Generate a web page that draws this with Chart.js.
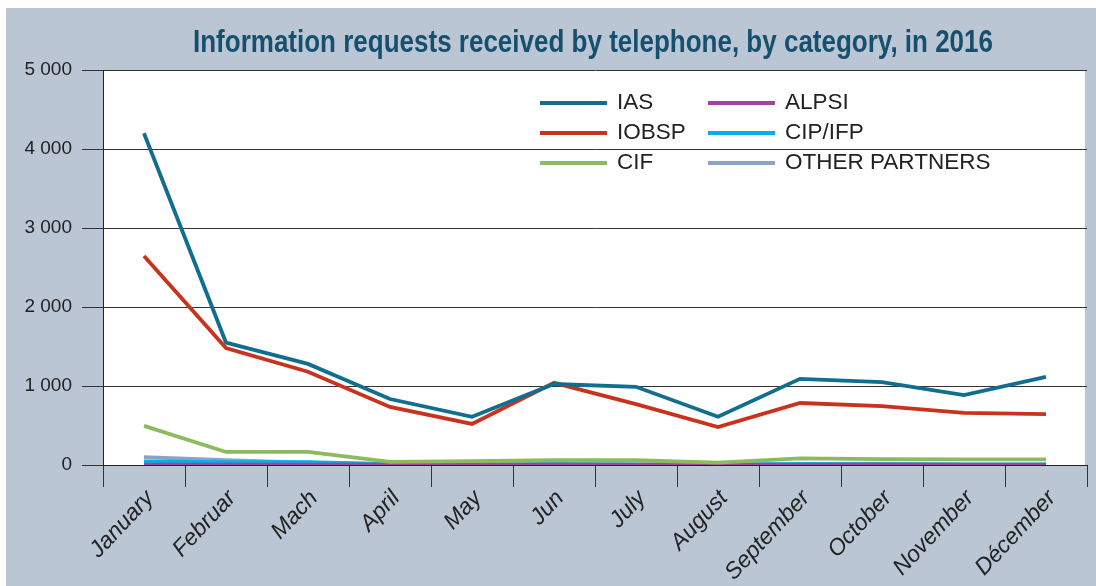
<!DOCTYPE html>
<html>
<head>
<meta charset="utf-8">
<script src="https://cdn.jsdelivr.net/npm/chart.js@4/dist/chart.umd.min.js"></script>
<style>
  html, body { margin: 0; padding: 0; background: #fff; }
  #wrap { width: 1096px; height: 586px; position: relative; }
</style>
</head>
<body>
<div id="wrap"><canvas id="chart" width="1096" height="586"></canvas></div>
<script>
/* data */
const months = ["January", "Februar", "Mach", "April", "May", "Jun", "July", "August", "September", "October", "November", "Décember"];
const ias = [4200, 1550, 1280, 835, 610, 1025, 990, 610, 1090, 1050, 885, 1115];
const iobsp = [2645, 1480, 1180, 735, 520, 1040, 770, 480, 785, 745, 660, 645];
const cif = [495, 165, 165, 40, 50, 60, 60, 30, 85, 75, 70, 70];
const alpsi = [5, 5, 5, 5, 0, 5, 0, 0, 0, 5, 0, 0];
const cipIfp = [45, 35, 35, 10, 5, 10, 5, 5, 10, 10, 5, 5];
const otherPartners = [100, 60, 30, 10, 10, 15, 10, 10, 15, 15, 10, 10];
const yTicks = [0, 1000, 2000, 3000, 4000, 5000];

const TITLE = "Information requests received by telephone, by category, in 2016";
const labelFont = "'Liberation Sans', Arial, sans-serif";

function series(label, data, color) {
  return {
    label: label,
    data: data,
    borderColor: color,
    backgroundColor: color,
    borderWidth: 3.8,
    pointRadius: 0,
    tension: 0,
    fill: false
  };
}

// background, white plot area, title and legend
const decor = {
  id: "decor",
  beforeDraw(chart) {
    const ctx = chart.ctx;
    const a = chart.chartArea;
    ctx.save();
    ctx.fillStyle = "#bac6d4";
    ctx.fillRect(6, 8, chart.width - 6, chart.height - 8);
    ctx.fillStyle = "#ffffff";
    ctx.fillRect(a.left, a.top, a.right - a.left - 2, a.bottom - a.top);
    ctx.restore();
  },
  afterDraw(chart) {
    const ctx = chart.ctx;
    ctx.save();
    // condensed bold title: squeeze a bold face to the width seen in the picture
    ctx.fillStyle = "#17506e";
    ctx.font = "bold 32px 'Liberation Sans', Arial, sans-serif";
    ctx.textAlign = "center";
    ctx.textBaseline = "alphabetic";
    const w = ctx.measureText(TITLE).width;
    const sx = 800 / w;
    ctx.translate(593, 52);
    ctx.scale(sx, 1);
    ctx.fillText(TITLE, 0, 0);
    ctx.restore();

    // legend in two columns
    ctx.save();
    const ds = chart.data.datasets;
    const cols = [540, 708];
    const rows = [103, 133, 163];
    ctx.font = "22.5px 'Liberation Sans', Arial, sans-serif";
    ctx.textAlign = "left";
    ctx.textBaseline = "middle";
    ds.forEach((d, i) => {
      const x = cols[Math.floor(i / 3)];
      const y = rows[i % 3];
      ctx.strokeStyle = d.borderColor;
      ctx.lineWidth = 4;
      ctx.beginPath();
      ctx.moveTo(x, y);
      ctx.lineTo(x + 67, y);
      ctx.stroke();
      ctx.fillStyle = "#222";
      ctx.fillText(d.label, x + 77, y);
    });
    ctx.restore();
  }
};

new Chart(document.getElementById("chart"), {
  type: "line",
  data: {
    labels: months,
    datasets: [
      series("IAS", ias, "#126e8e"),
      series("IOBSP", iobsp, "#c9321f"),
      series("CIF", cif, "#8cba5e"),
      series("ALPSI", alpsi, "#a2449c"),
      series("CIP/IFP", cipIfp, "#05aee8"),
      series("OTHER PARTNERS", otherPartners, "#8aa3c7")
    ]
  },
  options: {
    responsive: false,
    animation: false,
    layout: { padding: { left: 0, top: 70, right: 9, bottom: 0 } },
    plugins: {
      legend: { display: false },
      title: { display: false },
      tooltip: { enabled: false }
    },
    scales: {
      x: {
        offset: true,
        afterFit(scale) { scale.height = 121; },
        grid: {
          offset: true,
          drawOnChartArea: false,
          drawTicks: true,
          tickLength: 22,
          color: "#333",
          lineWidth: 1
        },
        border: { display: true, color: "#222", width: 1 },
        ticks: {
          minRotation: 47,
          maxRotation: 47,
          autoSkip: false,
          labelOffset: 6,
          padding: -2,
          color: "#222",
          font: { family: labelFont, size: 23, style: "italic" }
        }
      },
      y: {
        min: 0,
        max: 5000,
        afterFit(scale) { scale.width = 103; },
        afterBuildTicks(scale) { scale.ticks = yTicks.map(v => ({ value: v })); },
        grid: {
          drawTicks: true,
          tickLength: 21,
          color: "#333",
          lineWidth: 1
        },
        border: { display: true, color: "#222", width: 1 },
        ticks: {
          padding: 10,
          color: "#222",
          font: { family: labelFont, size: 19 },
          callback: v => String(v).replace(/\B(?=(\d{3})+(?!\d))/g, " ")
        }
      }
    }
  },
  plugins: [decor]
});
</script>
</body>
</html>
